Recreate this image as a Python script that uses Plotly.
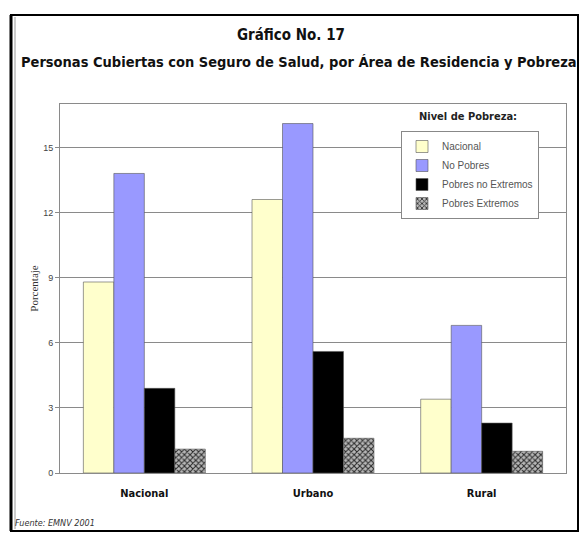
import plotly.graph_objects as go

categories = ["Nacional", "Urbano", "Rural"]
series_names = ["Nacional", "No Pobres", "Pobres no Extremos", "Pobres Extremos"]
nacional = [8.8, 12.6, 3.4]
no_pobres = [13.8, 16.1, 6.8]
pobres_no_extremos = [3.9, 5.6, 2.3]
pobres_extremos = [1.1, 1.6, 1.0]
y_ticks = [0, 3, 6, 9, 12, 15]

W, H = 582, 533
L, R, T, B = 60, 16, 104, 60
PW, PH = W - L - R, H - T - B

def px(x):
    return (x - L) / PW

def py(y):
    return (H - B - y) / PH

COND = "DejaVu Sans Condensed, Liberation Sans Narrow, Arial Narrow, sans-serif"

fig = go.Figure()
colors = ["#FFFFCC", "#9999FF", "#000000", "#A0A0A0"]
values = [nacional, no_pobres, pobres_no_extremos, pobres_extremos]
for i, (name, vals) in enumerate(zip(series_names, values)):
    marker = dict(color=colors[i], line=dict(color="#555555", width=0.6))
    if i == 3:
        marker["pattern"] = dict(shape="x", size=4, solidity=0.45,
                                 fgcolor="#2a2a2a", bgcolor="#b8b8b8", fillmode="replace")
    fig.add_trace(go.Bar(x=categories, y=vals, name=name, marker=marker))

fig.update_layout(
    width=W, height=H,
    margin=dict(l=L, r=R, t=T, b=B),
    paper_bgcolor="white", plot_bgcolor="white",
    barmode="group", bargap=0.277, bargroupgap=0,
    showlegend=True,
    legend=dict(x=px(401), y=py(131), xanchor="left", yanchor="top",
                bgcolor="white", bordercolor="#888888", borderwidth=1,
                font=dict(family="Liberation Sans, Arial", size=10, color="#555555"),
                itemwidth=30, tracegroupgap=0, entrywidth=118, entrywidthmode="pixels"),
    font=dict(family="Liberation Sans, Arial", color="#222222"),
)
fig.update_yaxes(range=[0, 17], tickvals=y_ticks, ticktext=[str(v) for v in y_ticks],
                 showgrid=True, gridcolor="#8a8a8a", gridwidth=1,
                 showline=True, linecolor="#8a8a8a", linewidth=1, mirror=True,
                 ticks="outside", ticklen=4, tickcolor="#8a8a8a",
                 tickfont=dict(size=9, color="#444444"), zeroline=False,
                 title=dict(text="Porcentaje", font=dict(family="Liberation Serif, Times New Roman", size=11, color="#333333"), standoff=2))
fig.update_xaxes(showline=True, linecolor="#8a8a8a", linewidth=1, mirror=True,
                 ticks="", ticklabelstandoff=10,
                 tickfont=dict(family=COND, size=11, color="#111111", weight="bold"))

ann = [
    dict(text="<b>Gráfico No. 17</b>", x=px(291), y=py(35), size=15),
    dict(text="<b>Personas Cubiertas con Seguro de Salud, por Área de Residencia y Pobreza</b>", x=px(299), y=py(62), size=14.5),
]
for a in ann:
    fig.add_annotation(text=a["text"], x=a["x"], y=a["y"], xref="paper", yref="paper",
                       xanchor="center", yanchor="middle", showarrow=False,
                       font=dict(family=COND, size=a["size"], color="#111111"))
fig.add_annotation(text="<b>Nivel de Pobreza:</b>", x=px(468), y=py(117), xref="paper", yref="paper",
                   xanchor="center", yanchor="middle", showarrow=False,
                   font=dict(family=COND, size=11, color="#222222"))
fig.add_annotation(text="<i>Fuente: EMNV 2001</i>", x=px(13), y=py(523), xref="paper", yref="paper",
                   xanchor="left", yanchor="middle", showarrow=False,
                   font=dict(family=COND, size=9, color="#333333"))

# outer frame
fig.add_shape(type="rect", xref="paper", yref="paper", x0=px(11), x1=px(578), y0=py(531), y1=py(15),
              line=dict(color="#000000", width=2), layer="above")
fig.add_shape(type="line", xref="paper", yref="paper", x0=px(11), x1=px(11), y0=py(531), y1=py(15),
              line=dict(color="#000000", width=3), layer="above")
fig.add_shape(type="line", xref="paper", yref="paper", x0=px(15), x1=px(15), y0=py(529), y1=py(17),
              line=dict(color="#999999", width=1), layer="above")

fig.write_html("out.html", config={"displayModeBar": False},
               post_script="document.body.style.margin='0';document.body.style.overflow='hidden';")
